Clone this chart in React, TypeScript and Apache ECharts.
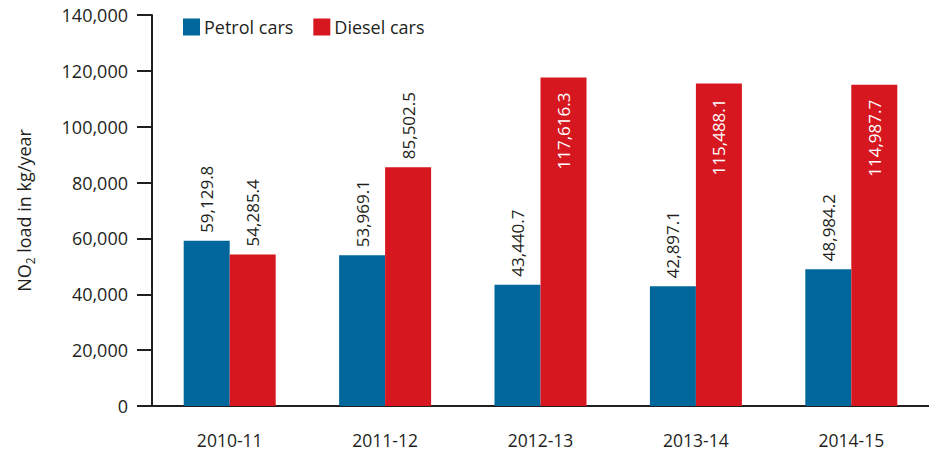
import React, { useEffect, useRef } from "react";
import * as echarts from "echarts";

const categories = ["2010-11", "2011-12", "2012-13", "2013-14", "2014-15"];
const petrolValues = [59129.8, 53969.1, 43440.7, 42897.1, 48984.2];
const dieselValues = [54285.4, 85502.5, 117616.3, 115488.1, 114987.7];
const dieselInside = [false, false, true, true, true];

const BLUE = "#00679d";
const RED = "#d7171f";
const TEXT = "#231f20";
const FONT = "'Open Sans', sans-serif";

const fmt = (v: number) =>
  v.toLocaleString("en-US", { minimumFractionDigits: 1, maximumFractionDigits: 1 });

export default function App() {
  const ref = useRef<HTMLDivElement>(null);
  useEffect(() => {
    if (!ref.current) return;
    const chart = echarts.init(ref.current, null, { renderer: "svg" });
    const outsideLabel = {
      show: true,
      position: "top",
      rotate: 90,
      align: "left",
      verticalAlign: "middle",
      distance: 8,
      color: TEXT,
      fontSize: 17,
      fontFamily: FONT,
      formatter: (p: any) => fmt(p.value),
    };
    const insideLabel = {
      show: true,
      position: "insideTop",
      rotate: 90,
      align: "right",
      verticalAlign: "middle",
      distance: 15,
      color: "#ffffff",
      fontSize: 17,
      fontFamily: FONT,
      formatter: (p: any) => fmt(p.value),
    };
    chart.setOption({
      animation: false,
      textStyle: { fontFamily: FONT },
      legend: {
        left: 183,
        top: 18,
        padding: 0,
        itemWidth: 17,
        itemHeight: 17,
        itemGap: 20,
        icon: "rect",
        textStyle: { fontSize: 18, color: TEXT, fontFamily: FONT, padding: [0, 0, 0, -1] },
        data: ["Petrol cars", "Diesel cars"],
      },
      grid: { left: 152, right: 0, top: 15, bottom: 46, containLabel: false },
      xAxis: {
        type: "category",
        data: categories,
        axisLine: { lineStyle: { color: TEXT, width: 2 } },
        axisTick: { show: false },
        axisLabel: { color: TEXT, fontSize: 17.5, fontFamily: FONT, margin: 25 },
      },
      yAxis: {
        type: "value",
        min: 0,
        max: 140000,
        interval: 20000,
        name: "NO{sub|2} load in kg/year",
        nameLocation: "middle",
        nameGap: 116,
        nameTextStyle: {
          color: TEXT,
          fontSize: 18,
          fontFamily: FONT,
          rich: {
            sub: { fontSize: 12, padding: [12, 0, 0, 0], color: TEXT, fontFamily: FONT },
          },
        },
        axisLine: { show: true, lineStyle: { color: TEXT, width: 2 } },
        axisTick: { show: true, inside: false, length: 15, lineStyle: { color: TEXT, width: 2 } },
        axisLabel: {
          color: TEXT,
          fontSize: 18,
          fontFamily: FONT,
          margin: 24,
          formatter: (v: number) => v.toLocaleString("en-US"),
        },
        splitLine: { show: false },
      },
      series: [
        {
          name: "Petrol cars",
          type: "bar",
          barWidth: 46,
          barGap: "0%",
          itemStyle: { color: BLUE },
          label: outsideLabel,
          data: petrolValues,
        },
        {
          name: "Diesel cars",
          type: "bar",
          barWidth: 46,
          barGap: "0%",
          itemStyle: { color: RED },
          data: dieselValues.map((v, i) => ({
            value: v,
            label: dieselInside[i] ? insideLabel : outsideLabel,
          })),
        },
      ],
    });
    return () => chart.dispose();
  }, []);
  return (
    <div
      ref={ref}
      style={{ position: "fixed", left: 0, top: 0, width: 929, height: 452, background: "#fff" }}
    />
  );
}
